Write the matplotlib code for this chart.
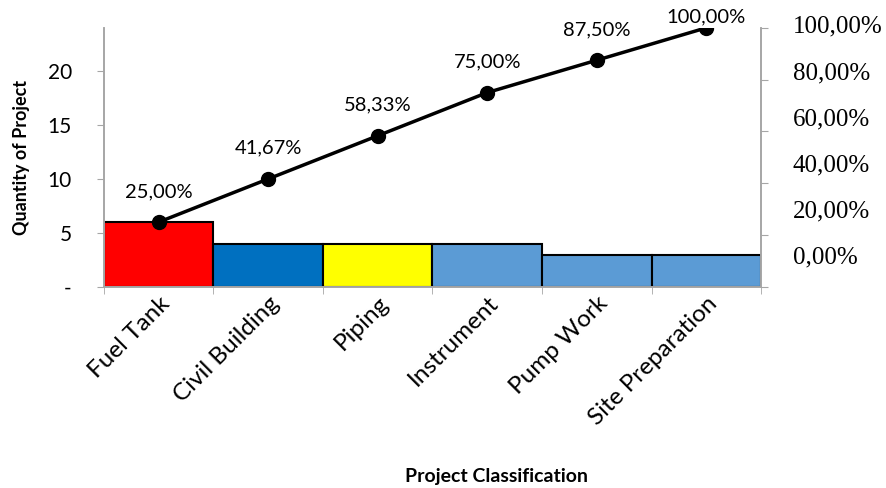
import numpy as np
import matplotlib.pyplot as plt
import matplotlib.transforms as mtransforms

categories = ["Fuel Tank", "Civil Building", "Piping", "Instrument", "Pump Work", "Site Preparation"]
counts = [6, 4, 4, 4, 3, 3]
colors = ["#FF0000", "#0070C0", "#FFFF00", "#5B9BD5", "#5B9BD5", "#5B9BD5"]
pct_labels = ["0,00%", "20,00%", "40,00%", "60,00%", "80,00%", "100,00%"]

cum = np.cumsum(counts)
cum_pct = cum / cum[-1] * 100

plt.rcParams['font.family'] = ['Lato', 'DejaVu Sans']

fig = plt.figure(figsize=(8.87, 4.88), dpi=100)
ax = fig.add_axes([0.117, 0.412, 0.741, 0.531])
x = np.arange(len(categories))

ax.bar(x, counts, width=1.0, color=colors, edgecolor="black", linewidth=1.5, zorder=2)
ax.plot(x, cum, color="black", lw=2.5, marker="o", ms=10, zorder=3)
for i, (xi, yi, p) in enumerate(zip(x, cum, cum_pct)):
    off = 2 if i == len(x) - 1 else 16
    ax.annotate(f"{p:.2f}".replace(".", ",") + "%", (xi, yi), xytext=(0, off),
                textcoords="offset points", ha="center", va="bottom", fontsize=14.5)

ax.set_xlim(-0.5, len(categories) - 0.5)
ax.set_ylim(0, cum[-1])
ax.set_yticks([0, 5, 10, 15, 20])
ax.set_yticklabels(["-", "5", "10", "15", "20"], fontsize=15)
ax.set_xticks(x)
ax.set_xticklabels(categories, rotation=45, ha="right", rotation_mode="anchor", fontsize=17.5)
shift = mtransforms.ScaledTranslation(-6 / 100, -5 / 100, fig.dpi_scale_trans)
for lbl in ax.get_xticklabels():
    lbl.set_transform(lbl.get_transform() + shift)
ax.set_xticks(np.arange(-0.5, len(categories)), minor=True)
ax.tick_params(axis="x", which="major", length=0, pad=4)
ax.tick_params(axis="x", which="minor", length=5, color="#A6A6A6")
ax.tick_params(axis="y", length=5, color="#A6A6A6", pad=18)
ax.set_ylabel("Quantity of Project", fontsize=13, fontweight="bold")
ax.yaxis.set_label_coords(-0.112, 0.5)
ax.set_xlabel("Project Classification", fontsize=14, fontweight="bold")
ax.xaxis.set_label_coords(0.598, -0.70)

ax2 = ax.twinx()
ax2.set_ylim(0, 100)
ax2.set_yticks(np.arange(0, 101, 20))
ax2.set_yticklabels([])
ax2.tick_params(axis="y", length=5, color="#A6A6A6")
for sp in ["top"]:
    ax.spines[sp].set_visible(False)
    ax2.spines[sp].set_visible(False)
for a in (ax, ax2):
    for sp in ["left", "right", "bottom"]:
        a.spines[sp].set_color("#A6A6A6")
        a.spines[sp].set_linewidth(1.2)

# percentage labels drawn beside the right axis
lab_pos = np.linspace(0.112, 1.004, len(pct_labels))
for lp, t in zip(lab_pos, pct_labels):
    ax2.text(1.048, lp, t, transform=ax2.transAxes, ha="left", va="center",
             fontsize=18, family="Liberation Serif")

fig.savefig("out.png", dpi=100)
